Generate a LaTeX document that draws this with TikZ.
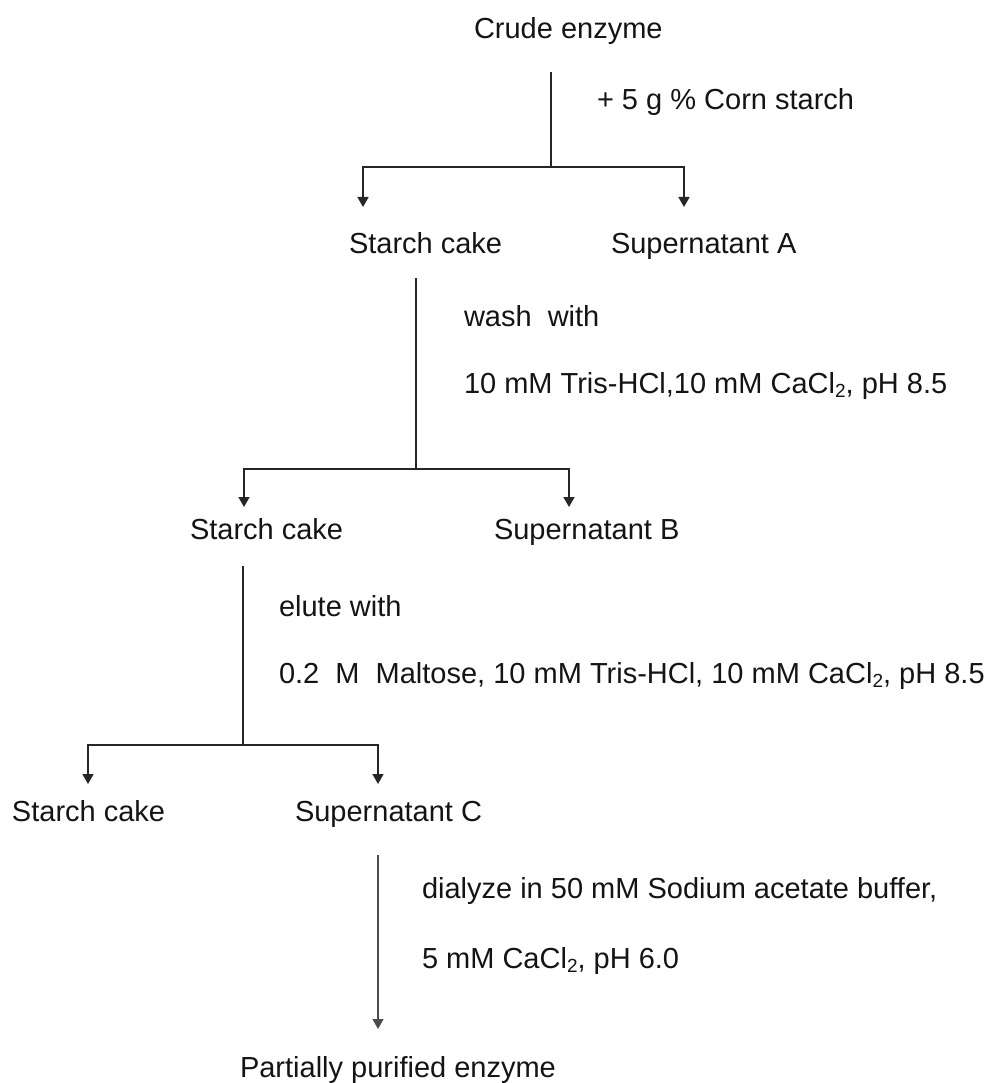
\documentclass[tikz,border=0pt]{standalone}
\usepackage{fontspec}
\setmainfont{Liberation Sans}
\usetikzlibrary{arrows.meta}
\newcommand\lowsub[1]{\raisebox{-0.32ex}{\fontsize{19}{19}\selectfont #1}}
\begin{document}
\begin{tikzpicture}[x=1pt,y=-1pt,
  lbl/.style={anchor=base west,inner sep=0pt,outer sep=0pt,text=black!92,font=\fontsize{29}{34}\selectfont},
  flow/.style={draw=black!85,line width=1.6pt},
  arr/.style={flow,-{Triangle[width=11pt,length=10pt]}},
  thinarr/.style={draw=black!70,line width=1.1pt,-{Triangle[width=11pt,length=10pt]}}]
\useasboundingbox (0,0) rectangle (1004,1083);
% texts
\node[lbl] (crude) at (474,39) {Crude enzyme};
\node[lbl] (corn) at (597,110) {+ 5 g \% Corn starch};
\node[lbl] (sc1) at (349,254) {Starch cake};
\node[lbl] (supA) at (611,254) {Supernatant A};
\node[lbl] (wash) at (464,326) {wash\ \ with};
\node[lbl] (wash2) at (464,393) {10 mM Tris-HCl,10 mM CaCl\lowsub{2}, pH 8.5};
\node[lbl] (sc2) at (190,539) {Starch cake};
\node[lbl] (supB) at (494,539) {Supernatant B};
\node[lbl] (elute) at (279,616) {elute with};
\node[lbl] (elute2) at (279,683) {0.2\ \ M\ \ Maltose, 10 mM Tris-HCl, 10 mM CaCl\lowsub{2}, pH 8.5};
\node[lbl] (sc3) at (12,821) {Starch cake};
\node[lbl] (supC) at (295,821) {Supernatant C};
\node[lbl] (dial) at (422,898) {dialyze in 50 mM Sodium acetate buffer,};
\node[lbl] (dial2) at (422,968) {5 mM CaCl\lowsub{2}, pH 6.0};
\node[lbl] (ppe) at (240,1077) {Partially purified enzyme};
% junction coordinates
\coordinate (s1) at (551,72);
\coordinate (j1) at (551,167);
\coordinate (j1l) at (363,167);
\coordinate (j1r) at (684,167);
\coordinate (t1l) at (363,207);
\coordinate (t1r) at (684,207);
\coordinate (s2) at (416,278);
\coordinate (j2) at (416,469);
\coordinate (j2l) at (244,469);
\coordinate (j2r) at (569,469);
\coordinate (t2l) at (244,507);
\coordinate (t2r) at (569,507);
\coordinate (s3) at (243,566);
\coordinate (j3) at (243,745);
\coordinate (j3l) at (88,745);
\coordinate (j3r) at (378,745);
\coordinate (t3l) at (88,784);
\coordinate (t3r) at (378,784);
\coordinate (s4) at (378,855);
\coordinate (t4) at (378,1029);
% connectors
\draw[flow] (s1) -- (j1);
\draw[arr] (j1) -- (j1l) -- (t1l);
\draw[arr] (j1) -- (j1r) -- (t1r);
\draw[flow] (s2) -- (j2);
\draw[arr] (j2) -- (j2l) -- (t2l);
\draw[arr] (j2) -- (j2r) -- (t2r);
\draw[flow] (s3) -- (j3);
\draw[arr] (j3) -- (j3l) -- (t3l);
\draw[arr] (j3) -- (j3r) -- (t3r);
\draw[thinarr] (s4) -- (t4);
\end{tikzpicture}
\end{document}
